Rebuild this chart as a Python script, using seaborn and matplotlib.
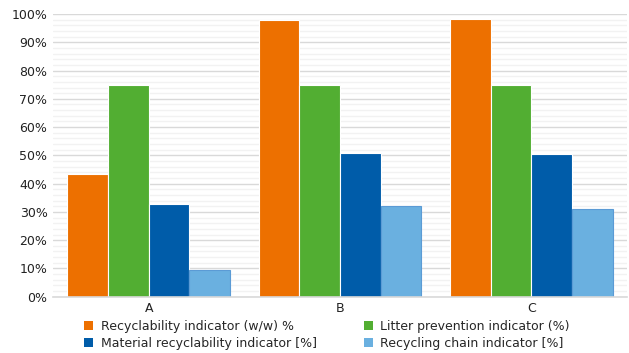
import matplotlib
matplotlib.use("Agg")
import matplotlib.pyplot as plt
import seaborn as sns
import pandas as pd
import numpy as np
from matplotlib.patches import Patch
from matplotlib.ticker import MultipleLocator, PercentFormatter

categories = ["A", "B", "C"]
hue_order = ["Recyclability indicator (w/w) %", "Litter prevention indicator (%)",
             "Material recyclability indicator [%]", "Recycling chain indicator [%]"]
legend_order = ["Recyclability indicator (w/w) %", "Material recyclability indicator [%]",
                "Litter prevention indicator (%)", "Recycling chain indicator [%]"]
recyclability = [43.3, 98.0, 98.1]
litter = [75.0, 75.0, 75.0]
material = [32.7, 50.7, 50.5]
chain = [9.4, 32.1, 31.0]
colors = {"Recyclability indicator (w/w) %": "#ED7000",
          "Litter prevention indicator (%)": "#52AE32",
          "Material recyclability indicator [%]": "#005CA9",
          "Recycling chain indicator [%]": "#6AB0E0"}

rows = []
for name, vals in zip(hue_order, [recyclability, litter, material, chain]):
    for c, v in zip(categories, vals):
        rows.append({"cat": c, "series": name, "value": v})
df = pd.DataFrame(rows)

sns.set_style("white")
plt.rcParams['font.family'] = ['DejaVu Sans']
fig = plt.figure(figsize=(6.29, 3.53), dpi=100)
ax = fig.add_axes([0.0843, 0.1595, 0.9127, 0.8008])

sns.barplot(data=df, x="cat", y="value", hue="series", hue_order=hue_order,
            order=categories, palette=colors, width=0.85, gap=0, ax=ax,
            errorbar=None, legend=False, saturation=1)

for bar in ax.patches:
    bar.set_linewidth(0.8)
    bar.set_edgecolor("white")
for cont, name in zip(ax.containers, hue_order):
    if name == "Recycling chain indicator [%]":
        for b in cont:
            b.set_edgecolor("#5B9BD5")

ax.set_ylim(0, 100)
ax.set_xlim(-0.5, 2.5)
ax.yaxis.set_major_locator(MultipleLocator(10))
ax.yaxis.set_minor_locator(MultipleLocator(2))
ax.yaxis.set_major_formatter(PercentFormatter(decimals=0))
ax.grid(axis="y", which="major", color="#d9d9d9", linewidth=1.0)
ax.grid(axis="y", which="minor", color="#f2f2f2", linewidth=1.0)
ax.set_axisbelow(True)
for s in ["top", "right", "left"]:
    ax.spines[s].set_visible(False)
ax.spines["bottom"].set_color("#d9d9d9")
ax.spines["bottom"].set_linewidth(1.2)
ax.tick_params(axis="both", which="both", length=0, labelsize=9, colors="#222222")
ax.tick_params(axis="y", pad=4)
ax.tick_params(axis="x", pad=4)
ax.set_xlabel("")
ax.set_ylabel("")

handles = [Patch(facecolor=colors[n], edgecolor="none") for n in legend_order]
fig.legend(handles, legend_order, ncol=2, loc="upper left",
           bbox_to_anchor=(0.134, 0.093), frameon=False, fontsize=9,
           handlelength=0.7, handleheight=0.7, handletextpad=0.6,
           columnspacing=3.8, labelspacing=0.32, borderaxespad=0,
           borderpad=0)

fig.savefig("out.png", dpi=100)
